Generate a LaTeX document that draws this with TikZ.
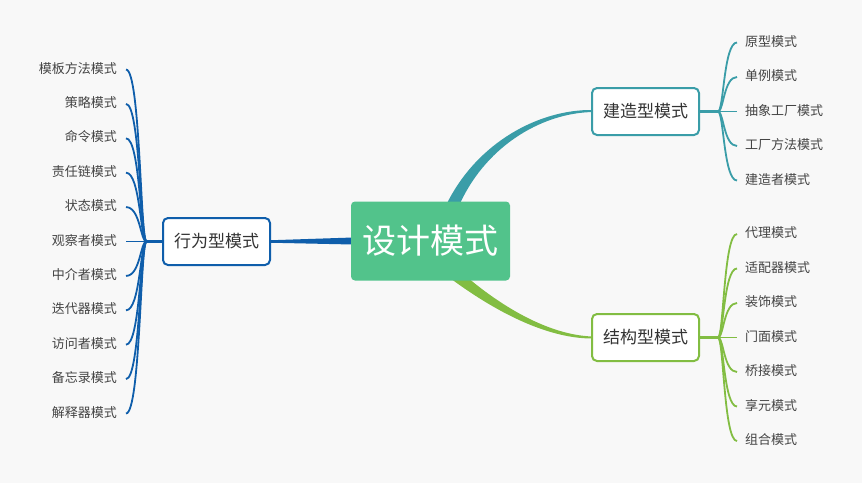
\documentclass[tikz,border=0pt]{standalone}
\usepackage{fontspec}
\newfontfamily\cjk{Noto Sans CJK SC}
\usetikzlibrary{calc}
\definecolor{bgc}{HTML}{F8F8F8}
\definecolor{mgreen}{HTML}{52C38B}
\definecolor{teal1}{HTML}{3A9DA8}
\definecolor{lgreen}{HTML}{82BD42}
\definecolor{blue1}{HTML}{0F5EAB}
\definecolor{txt}{HTML}{333333}
\definecolor{ltxt}{HTML}{444444}
\pgfdeclarelayer{bglayer}
\pgfdeclarelayer{curves}
\pgfsetlayers{bglayer,curves,main}
\begin{document}
\begin{tikzpicture}[x=1pt,y=-1pt,
  catbox/.style={draw, line width=2pt, fill=white, rounded corners=5pt, minimum width=107pt, minimum height=47pt, inner sep=0pt, font=\cjk\fontsize{17}{17}\selectfont, text=txt},
  leaf/.style={inner sep=0pt, inner xsep=8pt, font=\cjk\fontsize{13}{13}\selectfont, text=ltxt, text height=0.86em, text depth=0.14em},
  twig/.style={line width=1.8pt},
  stub/.style={line width=3pt}]
\useasboundingbox (0,0) rectangle (862,483);
\begin{pgfonlayer}{bglayer}
\fill[bgc] (0,0) rectangle (862,483);
\end{pgfonlayer}

% central node
\node[fill=mgreen, rounded corners=4pt, minimum width=159pt, minimum height=79pt, inner sep=0pt,
      font=\cjk\fontsize{34}{34}\selectfont, text=white] (m) at (430.5,241) {设计模式};

% category boxes
\node[catbox, draw=teal1] (b1) at (645.5,111.5) {建造型模式};
\node[catbox, draw=lgreen] (b2) at (645.5,337.5) {结构型模式};
\node[catbox, draw=blue1] (b3) at (216.5,241.5) {行为型模式};

% tapered main connectors
\begin{pgfonlayer}{curves}
\fill[teal1] ($(m.north)+(16,3)$) .. controls (477,142.3) and (539.4,109.1) .. ($(b1.west)+(2,-1.5)$)
   -- ($(b1.west)+(2,0.5)$) .. controls (540.6,112.9) and (483,147.7) .. ($(m.north)+(27,8)$) -- cycle;
\fill[lgreen] ($(m.south)+(21.7,-1)$) .. controls (481.7,301.3) and (539.3,338.9) .. ($(b2.west)+(2,1)$)
   -- ($(b2.west)+(2,-1)$) .. controls (540.7,335.1) and (486.3,294.7) .. ($(m.south)+(29.3,-10)$) -- cycle;
\fill[blue1] ($(m.west)+(2,-3.5)$) -- ($(b3.east)+(-2,-1.2)$) -- ($(b3.east)+(-2,1.2)$) -- ($(m.west)+(2,3.5)$) -- cycle;
\end{pgfonlayer}

% branch points
\coordinate (tb) at ($(b1.east)+(18,0)$);
\coordinate (gb) at ($(b2.east)+(18,0)$);
\coordinate (lb) at ($(b3.west)+(-15.5,0)$);
\draw[stub,teal1] (b1.east) -- (tb);
\draw[stub,lgreen] (b2.east) -- (gb);
\draw[stub,blue1] (b3.west) -- (lb);

% creational
\foreach \k/\t [count=\i] in {-2/原型模式,-1/单例模式,0/抽象工厂模式,1/工厂方法模式,2/建造者模式}{
  \node[leaf, anchor=west] (t\i) at ($(tb)+(19,{34.5*(\k)})$) {\t};
  \draw[twig,teal1] let \p1=(tb), \p2=(t\i.west) in
    (\p1) .. controls ({\x1+0.3*(\x2-\x1)},\y1) and ({\x1+0.3*(\x2-\x1)},\y2) .. (\p2);
}
% structural
\foreach \k/\t [count=\i] in {-3/代理模式,-2/适配器模式,-1/装饰模式,0/门面模式,1/桥接模式,2/享元模式,3/组合模式}{
  \node[leaf, anchor=west] (s\i) at ($(gb)+(19,{34.5*(\k)})$) {\t};
  \draw[twig,lgreen] let \p1=(gb), \p2=(s\i.west) in
    (\p1) .. controls ({\x1+0.3*(\x2-\x1)},\y1) and ({\x1+0.3*(\x2-\x1)},\y2) .. (\p2);
}
% behavioral
\foreach \k/\t [count=\i] in {-5/模板方法模式,-4/策略模式,-3/命令模式,-2/责任链模式,-1/状态模式,0/观察者模式,1/中介者模式,2/迭代器模式,3/访问者模式,4/备忘录模式,5/解释器模式}{
  \node[leaf, anchor=east, inner xsep=9pt] (v\i) at ($(lb)+(-20.5,{34.4*(\k)})$) {\t};
  \draw[twig,blue1] let \p1=(lb), \p2=(v\i.east) in
    (\p1) .. controls ({\x1+0.3*(\x2-\x1)},\y1) and ({\x1+0.3*(\x2-\x1)},\y2) .. (\p2);
}
\end{tikzpicture}
\end{document}
